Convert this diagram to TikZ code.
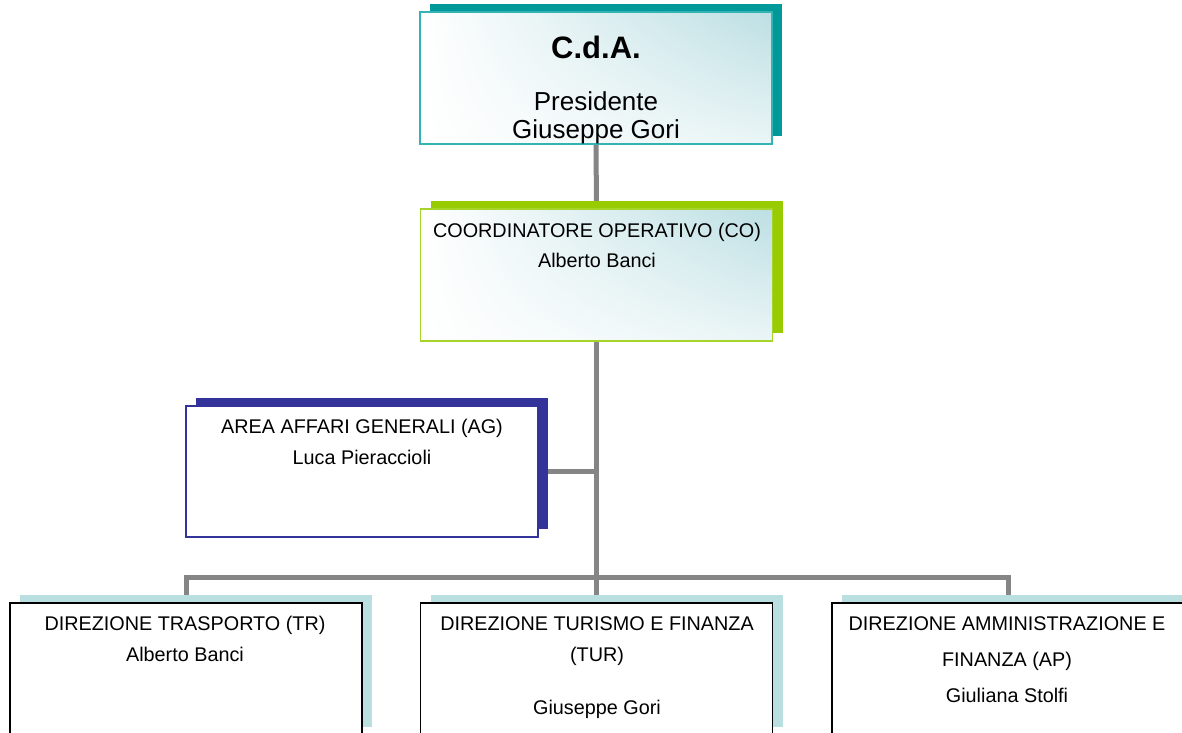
\documentclass[tikz,border=0pt]{standalone}
\usepackage{fontspec}
\setmainfont{Liberation Sans}
\usetikzlibrary{shadows,shadings,backgrounds}
\definecolor{tealdark}{HTML}{009999}
\definecolor{tealline}{HTML}{33B3B3}
\definecolor{teallight}{HTML}{BCDFE3}
\definecolor{tealpale}{HTML}{EAF5F6}
\definecolor{greenbar}{HTML}{99CC00}
\definecolor{greenline}{HTML}{A6D42A}
\definecolor{navy}{HTML}{333399}
\definecolor{shadowpale}{HTML}{B9DFE1}
\definecolor{conn}{HTML}{858585}
\tikzset{
  box/.style={rectangle, minimum width=352pt, minimum height=132pt, inner sep=0pt, outer sep=0pt, line width=1.3pt},
  shad/.style={general shadow={fill=#1, shadow xshift=10pt, shadow yshift=8pt}},
  grad/.style={lower left=white, upper left=white, lower right=tealpale, upper right=teallight},
  conline/.style={draw=conn, line width=5pt},
  big/.style={font=\fontsize{31}{36}\selectfont\bfseries, anchor=base, inner sep=0pt},
  mid/.style={font=\fontsize{26}{30}\selectfont, anchor=base, inner sep=0pt},
  txt/.style={font=\fontsize{19.8}{24}\selectfont, anchor=base, inner sep=0pt},
}
\begin{document}
\begin{tikzpicture}[x=1pt,y=-1pt]
\useasboundingbox (0,0) rectangle (1182,732);
\clip (0,0) rectangle (1182,732);
% boxes
\node[box, shad=tealdark, grad, draw=tealline] (cda) at (596,78) {};
\node[box, shad=greenbar, grad, draw=greenline] (co) at (596.5,275) {};
\node[box, shad=navy, fill=white, draw=navy, minimum height=131pt] (ag) at (362,471.5) {};
\node[box, shad=shadowpale, fill=white, draw=black] (tr) at (186,669) {};
\node[box, shad=shadowpale, fill=white, draw=black] (tur) at (596.5,669) {};
\node[box, shad=shadowpale, fill=white, draw=black] (ap) at (1008,669) {};
\coordinate (hub) at (597,577);
% connectors behind boxes
\begin{pgfonlayer}{background}
\draw[conline] (cda.south) -- (co.north);
\draw[conline] (co.south) -- (tur.north);
\draw[conline] (ag.east) -- (ag.east -| hub);
\draw[conline] (tr.north) |- (hub) -| (ap.north);
\end{pgfonlayer}
% texts
\node[big] (t1) at (596,58) {C.d.A.};
\node[mid] (t2) at (596,110) {Presidente};
\node[mid] (t3) at (596,138) {Giuseppe Gori};
\node[txt] (t4) at (597,237) {COORDINATORE OPERATIVO (CO)};
\node[txt] (t5) at (597,267) {Alberto Banci};
\node[txt] (t6) at (362,433) {AREA AFFARI GENERALI (AG)};
\node[txt] (t7) at (362,464) {Luca Pieraccioli};
\node[txt] (t8) at (185,630) {DIREZIONE TRASPORTO (TR)};
\node[txt] (t9) at (185,661) {Alberto Banci};
\node[txt] (t10) at (597,630) {DIREZIONE TURISMO E FINANZA};
\node[txt] (t11) at (597,661) {(TUR)};
\node[txt] (t12) at (597,714) {Giuseppe Gori};
\node[txt] (t13) at (1007,630) {DIREZIONE AMMINISTRAZIONE E};
\node[txt] (t14) at (1007,666) {FINANZA (AP)};
\node[txt] (t15) at (1007,702) {Giuliana Stolfi};
\end{tikzpicture}
\end{document}
